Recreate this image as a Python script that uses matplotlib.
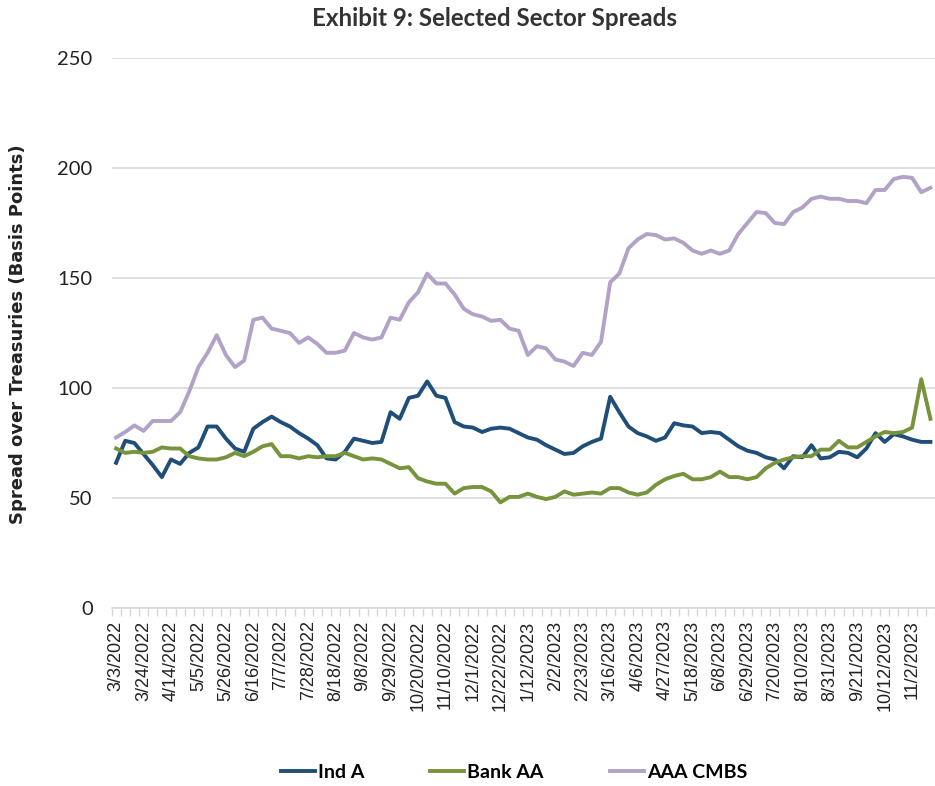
import matplotlib.pyplot as plt
import numpy as np

# weekly spreads (bp), first week 3/3/2022
ind_a = [66, 76, 75, 70, 65, 59.5, 67.5, 65.5, 70.5, 73,
         82.5, 82.5, 77, 72.5, 71, 81.5, 84.5, 87, 84.5, 82.5,
         79.5, 77, 74, 68, 67.5, 71, 77, 76, 75, 75.5,
         89, 86, 95.5, 96.5, 103, 96.5, 95.5, 84.5, 82.5, 82,
         80, 81.5, 82, 81.5, 79.5, 77.5, 76.5, 74, 72, 70,
         70.5, 73.5, 75.5, 77, 96, 89, 82.5, 79.5, 78, 76,
         77.5, 84, 83, 82.5, 79.5, 80, 79.5, 76.5, 73.5, 71.5,
         70.5, 68.5, 67.5, 63.5, 69, 68.5, 74, 68, 68.5, 71,
         70.5, 68.5, 72.5, 79.5, 75.5, 79, 78, 76.5, 75.5, 75.5]

bank_aa = [72.5, 70.5, 71, 70.5, 71, 73, 72.5, 72.5, 69, 68,
           67.5, 67.5, 68.5, 70.5, 69, 71, 73.5, 74.5, 69, 69,
           68, 69, 68.5, 69, 69, 70.5, 69, 67.5, 68, 67.5,
           65.5, 63.5, 64, 59, 57.5, 56.5, 56.5, 52, 54.5, 55,
           55, 53, 48, 50.5, 50.5, 52, 50.5, 49.5, 50.5, 53,
           51.5, 52, 52.5, 52, 54.5, 54.5, 52.5, 51.5, 52.5, 56,
           58.5, 60, 61, 58.5, 58.5, 59.5, 62, 59.5, 59.5, 58.5,
           59.5, 63.5, 66, 67.5, 68.5, 69, 69, 72, 72, 76,
           73, 73, 75.5, 78, 80, 79.5, 80, 82, 104, 86]

aaa_cmbs = [77.5, 80, 83, 80.5, 85, 85, 85, 89, 98.5, 109.5,
            116, 124, 115, 109.5, 112.5, 131, 132, 127, 126, 125,
            120.5, 123, 120, 116, 116, 117, 125, 123, 122, 123,
            132, 131, 139, 143.5, 152, 147.5, 147.5, 142.5, 136, 133.5,
            132.5, 130.5, 131, 127, 126, 115, 119, 118, 113, 112,
            110, 116, 115, 121, 148, 152, 163.5, 167.5, 170, 169.5,
            167.5, 168, 166, 162.5, 161, 162.5, 161, 162.5, 170, 175,
            180, 179.5, 175, 174.5, 180, 182, 186, 187, 186, 186,
            185, 185, 184, 190, 190, 195, 196, 195.5, 189, 191]

# every third week gets a label
tick_labels = ["3/3/2022", "3/24/2022", "4/14/2022", "5/5/2022", "5/26/2022",
               "6/16/2022", "7/7/2022", "7/28/2022", "8/18/2022", "9/8/2022",
               "9/29/2022", "10/20/2022", "11/10/2022", "12/1/2022", "12/22/2022",
               "1/12/2023", "2/2/2023", "2/23/2023", "3/16/2023", "4/6/2023",
               "4/27/2023", "5/18/2023", "6/8/2023", "6/29/2023", "7/20/2023",
               "8/10/2023", "8/31/2023", "9/21/2023", "10/12/2023", "11/2/2023"]

series = [("Ind A", ind_a, "#1f4e79"),
          ("Bank AA", bank_aa, "#77933c"),
          ("AAA CMBS", aaa_cmbs, "#b3a2c7")]

fig = plt.figure(figsize=(9.35, 7.86), dpi=100)
ax = fig.add_axes([111.5/935, 1-608/786, 1-111.5/935, 550/786])

x = np.arange(len(ind_a))
handles = []
for name, vals, col in series:
    h, = ax.plot(x, vals, color=col, linewidth=2.8, label=name,
                 solid_joinstyle="round", zorder=3)
    handles.append(h)

ax.set_ylim(0, 250)
ax.set_yticks(np.arange(0, 251, 50))
ax.set_xlim(-0.5, -0.5 + (935 - 111.5) / 9.24)
ax.grid(axis="y", color="#d9d9d9", linewidth=1.2)
ax.set_axisbelow(True)
for s in ["top", "right", "left"]:
    ax.spines[s].set_visible(False)
ax.spines["bottom"].set_color("#d9d9d9")
ax.spines["bottom"].set_linewidth(1.2)

ax.set_xticks(np.arange(0, len(tick_labels) * 3, 3))
ax.set_xticklabels(tick_labels, rotation=90, fontsize=13,
                   family="Liberation Sans", color="#222222")
ax.set_xticks(np.arange(-0.5, len(ind_a), 1), minor=True)
ax.tick_params(axis="x", which="major", length=0, pad=9)
ax.tick_params(axis="x", which="minor", length=6, color="#d9d9d9", width=1)
ax.tick_params(axis="y", length=0, pad=13.5)
for lbl in ax.get_yticklabels():
    lbl.set_fontsize(14.5)
    lbl.set_family("Lato")
    lbl.set_color("#222222")

fig.text(18/935, 1-334/786, "Spread over Treasuries (Basis Points)",
         rotation=90, ha="center", va="center", fontsize=13,
         fontweight="bold", family="DejaVu Sans", color="#222222")
fig.text(495/935, 1-18/786, "Exhibit 9: Selected Sector Spreads",
         ha="center", va="center", fontsize=17.4, fontweight="bold",
         family="Lato", color="#333333")

fig.legend(handles=handles, loc="center", bbox_to_anchor=(514/935, 1-772/786),
           ncol=3, frameon=False, handlelength=1.75, handletextpad=0.15,
           columnspacing=3.4, prop={"family": "Lato", "weight": "bold", "size": 14})

fig.savefig("out.png", dpi=100)
